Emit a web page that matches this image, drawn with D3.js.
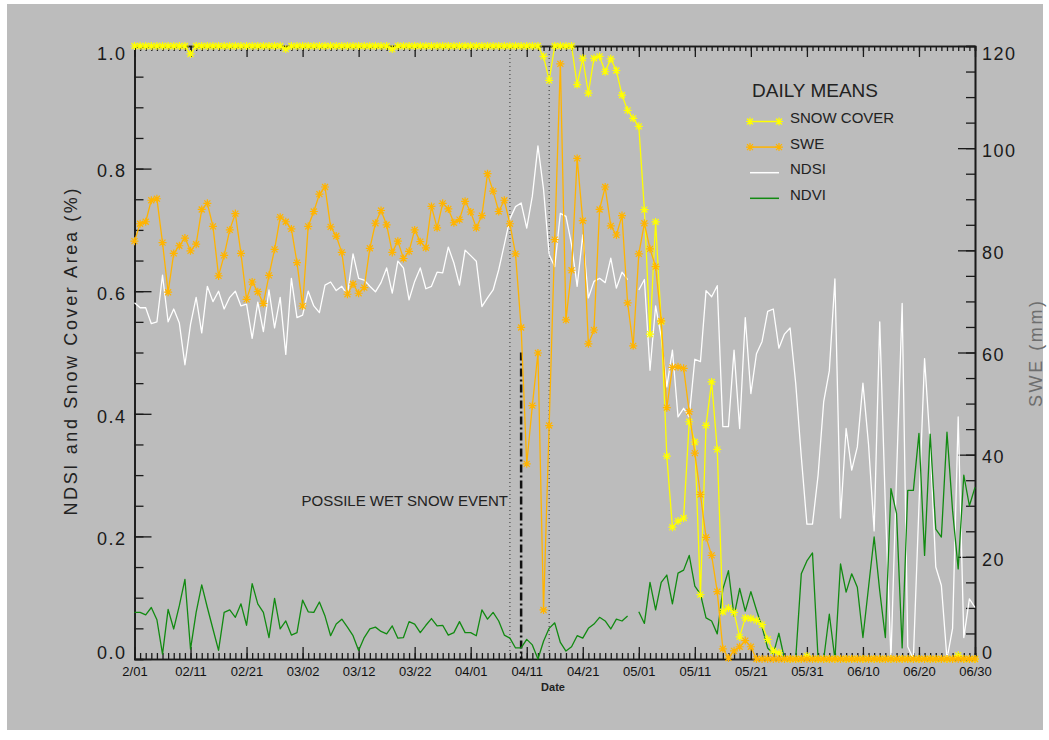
<!DOCTYPE html>
<html>
<head>
<meta charset="utf-8">
<script src="https://cdn.jsdelivr.net/npm/d3@7"></script>
<style>
    html, body { margin: 0; padding: 0; background: #ffffff; }
    svg text { font-family: "Liberation Sans", Arial, sans-serif; fill: #1a1a1a; }
</style>
</head>
<body>
<div id="chart"></div>
<script>
// Daily means, Feb 1 .. Jun 30 (day index 0..150)

const dateLabels = ["2/01", "02/11", "02/21", "03/02", "03/12", "03/22", "04/01", "04/11",
    "04/21", "05/01", "05/11", "05/21", "05/31", "06/10", "06/20", "06/30"];

// snow covered fraction
const snowCover = [
    1, 1, 1, 1, 1, 1, 1, 1, 1, 1, 0.987, 1, 1, 1, 1, 1, 1, 1, 1, 1,
    1, 1, 1, 1, 1, 1, 1, 0.995, 1, 1, 1, 1, 1, 1, 1, 1, 1, 1, 1, 1,
    1, 1, 1, 1, 1, 1, 0.995, 1, 1, 1, 1, 1, 1, 1, 1, 1, 1, 1, 1, 1,
    1, 1, 1, 1, 1, 1, 1, 1, 1, 1, 1, 1, 1, 0.983, 0.944, 1, 1, 1, 1, 0.937,
    0.980, 0.923, 0.980, 0.983, 0.958, 0.979, 0.960, 0.920, 0.895, 0.882, 0.869, 0.733, 0.530, 0.713, 0.55, 0.331, 0.215, 0.225, 0.230, 0.387,
    0.354, 0.105, 0.381, 0.452, 0.342, 0.077, 0.083, 0.076, 0.036, 0.067, 0.066, 0.063, 0.056, 0.032, 0.013, 0.01, 0, 0, 0, 0,
    0.005, 0, 0, 0, 0, 0, 0, 0, 0, 0, 0, 0, 0, 0, 0, 0, 0, 0, 0, 0,
    0, 0, 0, 0, 0, 0, 0, 0.006, 0, 0, 0
];

// snow water equivalent, mm
const swe = [
    81.8, 85.2, 85.6, 89.8, 90.1, 81.5, 71.8, 79.4, 80.9, 82.4, 79.9, 81.2, 88.0, 89.2, 84.7, 75.0, 79.0, 84.0, 87.2, 79.4,
    70.4, 73.8, 71.9, 69.6, 75.1, 80.2, 86.5, 85.6, 84.2, 77.6, 69.1, 84.7, 87.6, 91.0, 92.4, 84.6, 82.8, 79.6, 71.4, 73.4,
    71.6, 72.7, 80.4, 85.3, 87.8, 85.0, 79.6, 81.8, 78.4, 79.8, 84.0, 81.7, 80.5, 88.6, 84.4, 89.2, 88.1, 85.4, 86.0, 89.6,
    87.5, 84.4, 86.8, 95.0, 91.6, 87.6, 89.8, 85.2, 79.3, 64.9, 38.2, 49.6, 59.9, 9.6, 45.7, 82.1, 116.5, 66.4, 76.1, 98.0,
    85.8, 61.7, 64.4, 88.0, 92.4, 84.8, 83.0, 86.8, 69.7, 61.3, 79.3, 85.3, 80.3, 76.8, 66.2, 49.2, 57.1, 57.2, 56.9, 48.4,
    40.3, 32.2, 23.8, 20.3, 13.2, 2.0, 0.2, 1.6, 2.4, 3.6, 2.4, 0, 0, 0, 0, 0, 0, 0, 0, 0,
    0, 0, 0, 0, 0, 0, 0, 0, 0, 0, 0, 0, 0, 0, 0, 0, 0, 0, 0, 0,
    0, 0, 0, 0, 0, 0, 0, 0, 0, 0, 0
];

const ndsi = [
    0.581, 0.573, 0.573, 0.547, 0.550, 0.626, 0.550, 0.571, 0.548, 0.480, 0.546, 0.590, 0.532, 0.608, 0.583, 0.600, 0.571, 0.590, 0.600, 0.576,
    0.579, 0.523, 0.582, 0.534, 0.602, 0.540, 0.590, 0.497, 0.621, 0.557, 0.561, 0.600, 0.576, 0.565, 0.610, 0.615, 0.601, 0.608, 0.594, 0.661,
    0.621, 0.618, 0.608, 0.599, 0.614, 0.638, 0.597, 0.649, 0.638, 0.586, 0.616, 0.638, 0.604, 0.608, 0.631, 0.630, 0.672, 0.646, 0.610, 0.667,
    0.658, 0.649, 0.575, 0.589, 0.602, 0.635, 0.676, 0.718, 0.738, 0.744, 0.703, 0.755, 0.837, 0.766, 0.660, 0.640, 0.727, 0.722, 0.676, 0.608,
    0.692, 0.589, 0.616, 0.621, 0.614, 0.654, 0.605, 0.631, 0.619, null, 0.602, 0.619, 0.471, 0.576, 0.526, 0.444, 0.504, 0.395, 0.409, 0.395,
    0.489, 0.485, 0.601, 0.591, 0.609, 0.379, 0.379, 0.504, 0.376, 0.557, 0.433, 0.498, 0.518, 0.567, 0.571, 0.507, 0.530, 0.540, 0.450, 0.330,
    0.220, 0.220, 0.300, 0.420, 0.470, 0.620, 0.230, 0.376, 0.308, 0.346, 0.450, 0.350, 0.209, 0.550, 0.250, 0.000, 0.300, 0.580, 0.020, 0.000,
    0.250, 0.490, 0.350, 0.150, 0.120, 0.000, 0.050, 0.395, 0.035, 0.098, 0.084
];

const ndvi = [
    0.076, 0.076, 0.072, 0.084, 0.064, 0.008, 0.081, 0.049, 0.087, 0.130, 0.016, 0.076, 0.121, 0.084, 0.049, 0.014, 0.076, 0.080, 0.068, 0.090,
    0.055, 0.123, 0.090, 0.076, 0.035, 0.099, 0.049, 0.062, 0.039, 0.043, 0.096, 0.077, 0.076, 0.093, 0.070, 0.038, 0.057, 0.065, 0.052, 0.038,
    0.014, 0.035, 0.049, 0.052, 0.045, 0.041, 0.054, 0.034, 0.035, 0.061, 0.057, 0.043, 0.055, 0.066, 0.054, 0.055, 0.039, 0.043, 0.061, 0.043,
    0.043, 0.038, 0.080, 0.065, 0.076, 0.062, 0.039, 0.034, 0.018, 0.018, 0.032, 0.023, 0.000, 0.029, 0.050, 0.059, 0.027, 0.013, 0.020, 0.038,
    0.034, 0.050, 0.057, 0.068, 0.062, 0.049, 0.065, 0.062, 0.070, null, 0.077, 0.058, 0.125, 0.080, 0.125, 0.137, 0.090, 0.140, 0.145, 0.169,
    0.119, 0.106, 0.067, 0.062, 0.041, 0.114, 0.144, 0.070, 0.115, 0.078, 0.110, 0.080, 0.052, 0.018, 0.008, 0.042, 0.000, 0.000, 0.000, 0.139,
    0.160, 0.173, 0.000, 0.000, 0.073, 0.000, 0.155, 0.109, 0.139, 0.117, 0.035, 0.117, 0.199, 0.111, 0.035, 0.278, 0.237, 0.018, 0.275, 0.275,
    0.368, 0.169, 0.367, 0.212, 0.199, 0.370, 0.242, 0.147, 0.300, 0.250, 0.280
];

// dotted bracket and dash-dot event marker (day index)
const bracketDays = [67, 74];
const eventDay = 69;
const eventTop = 0.5;

const legendNames = ["SNOW COVER", "SWE", "NDSI", "NDVI"];
const seriesColors = { snow: "#ffff00", swe: "#ffb400", ndsi: "#ffffff", ndvi: "#118a11" };

const W = 1049, H = 740;
const plot = { left: 134.5, right: 975, top: 46, bottom: 659 };

const svg = d3.select("#chart").append("svg")
    .attr("width", W)
    .attr("height", H);

svg.append("rect").attr("width", W).attr("height", H).attr("fill", "#ffffff");
svg.append("rect")
    .attr("x", 7).attr("y", 4)
    .attr("width", 1036).attr("height", 726)
    .attr("fill", "#bcbcbc");

const days = d3.range(snowCover.length);
const x = d3.scaleLinear().domain([0, 150]).range([plot.left, plot.right]);
const y = d3.scaleLinear().domain([0, 1]).range([plot.bottom, plot.top]);
const yR = d3.scaleLinear().domain([0, 120]).range([plot.bottom, plot.top]);

// ---- axes (IDL style: ticks pointing inward) ----
const axisColor = "#1a1a1a";

function styleAxis(g) {
    g.selectAll("path.domain").attr("stroke", axisColor).attr("stroke-width", 1.6);
    g.selectAll(".tick line").attr("stroke", axisColor).attr("stroke-width", 1.3);
}

// minor ticks first
svg.append("g")
    .attr("transform", `translate(0,${plot.bottom})`)
    .call(d3.axisBottom(x).tickValues(days).tickSize(-6).tickFormat(""))
    .call(styleAxis);
svg.append("g")
    .attr("transform", `translate(0,${plot.top})`)
    .call(d3.axisTop(x).tickValues(days).tickSize(-5).tickFormat(""))
    .call(styleAxis);
svg.append("g")
    .attr("transform", `translate(${plot.left},0)`)
    .call(d3.axisLeft(y).tickValues(d3.range(0, 1.001, 0.05)).tickSize(-9).tickFormat(""))
    .call(styleAxis);
svg.append("g")
    .attr("transform", `translate(${plot.right},0)`)
    .call(d3.axisRight(yR).tickValues(d3.range(0, 121, 5)).tickSize(-9).tickFormat(""))
    .call(styleAxis);

// major ticks + labels
const xMajor = d3.range(0, 151, 10);
const bottomAxis = svg.append("g")
    .attr("transform", `translate(0,${plot.bottom})`)
    .call(d3.axisBottom(x).tickValues(xMajor).tickSize(-12).tickSizeOuter(0).tickPadding(7.5)
        .tickFormat((d, i) => dateLabels[i]))
    .call(styleAxis);
bottomAxis.selectAll("text")
    .style("font-size", "13px")
    .style("fill", "#111");

svg.append("g")
    .attr("transform", `translate(0,${plot.top})`)
    .call(d3.axisTop(x).tickValues(xMajor).tickSize(-11).tickSizeOuter(0).tickFormat(""))
    .call(styleAxis);

const leftAxis = svg.append("g")
    .attr("transform", `translate(${plot.left},0)`)
    .call(d3.axisLeft(y).tickValues(d3.range(0, 1.001, 0.2)).tickSize(-17).tickSizeOuter(0)
        .tickPadding(8).tickFormat(d3.format(".1f")))
    .call(styleAxis);

const rightAxis = svg.append("g")
    .attr("transform", `translate(${plot.right},0)`)
    .call(d3.axisRight(yR).tickValues(d3.range(0, 121, 20)).tickSize(-17).tickSizeOuter(0)
        .tickPadding(7).tickFormat(d3.format("d")))
    .call(styleAxis);

// end labels are pulled inside the axis span, like the original
function nudgeLabels(axisG, scale) {
    const [lo, hi] = scale.domain();
    axisG.selectAll(".tick text")
        .style("font-size", "18px")
        .style("letter-spacing", "1.5px")
        .style("fill", "#1a1a1a")
        .attr("dy", "0.32em")
        .attr("y", d => d === hi ? 8 : d === lo ? -6.5 : 2.5);
}
nudgeLabels(leftAxis, y);
nudgeLabels(rightAxis, yR);

// ---- axis titles ----
svg.append("text")
    .attr("transform", `translate(71,352) rotate(-90)`)
    .attr("text-anchor", "middle")
    .attr("dominant-baseline", "central")
    .attr("textLength", 327)
    .attr("lengthAdjust", "spacing")
    .style("font-size", "18px")
    .style("fill", "#222")
    .text("NDSI and Snow Cover Area (%)");

svg.append("text")
    .attr("transform", `translate(1036,354) rotate(-90)`)
    .attr("text-anchor", "middle")
    .attr("dominant-baseline", "central")
    .attr("textLength", 106)
    .attr("lengthAdjust", "spacing")
    .style("font-size", "18px")
    .style("fill", "#6e6e6e")
    .text("SWE (mm)");

svg.append("text")
    .attr("x", 553).attr("y", 691)
    .attr("text-anchor", "middle")
    .style("font-size", "11px")
    .style("font-weight", "bold")
    .style("fill", "#222")
    .text("Date");

// ---- reference lines ----
bracketDays.forEach(d => {
    svg.append("line")
        .attr("x1", x(d)).attr("x2", x(d))
        .attr("y1", y(1)).attr("y2", y(0))
        .attr("stroke", "#333")
        .attr("stroke-width", 1)
        .attr("stroke-dasharray", "1,3");
});

svg.append("line")
    .attr("x1", x(eventDay)).attr("x2", x(eventDay))
    .attr("y1", y(eventTop)).attr("y2", y(0))
    .attr("stroke", "#111")
    .attr("stroke-width", 2.5)
    .attr("stroke-dasharray", "8,3,2,3");

svg.append("text")
    .attr("x", x(bracketDays[0]) - 2)
    .attr("y", 506)
    .attr("text-anchor", "end")
    .style("font-size", "15px")
    .style("fill", "#222")
    .text("POSSILE WET SNOW EVENT");

// ---- series ----
const asterisk = "M-4,0H4M0,-4V4M-3,-3L3,3M-3,3L3,-3";

function drawSeries(values, yScale, color, withMarkers) {
    const pts = days.map(i => ({ d: i, v: values[i] }));
    const line = d3.line()
        .defined(p => p.v != null)
        .x(p => x(p.d))
        .y(p => yScale(p.v));

    svg.append("path")
        .datum(pts)
        .attr("d", line)
        .attr("fill", "none")
        .attr("stroke", color)
        .attr("stroke-width", 1.3)
        .attr("stroke-linejoin", "round");

    if (!withMarkers) return;
    svg.append("g").selectAll("path")
        .data(pts.filter(p => p.v != null))
        .enter().append("path")
        .attr("transform", p => `translate(${x(p.d)},${yScale(p.v)})`)
        .attr("d", asterisk)
        .attr("stroke", color)
        .attr("stroke-width", 1.2)
        .attr("fill", "none");
}

drawSeries(ndsi, y, seriesColors.ndsi, false);
drawSeries(ndvi, y, seriesColors.ndvi, false);
drawSeries(snowCover, y, seriesColors.snow, true);
drawSeries(swe, yR, seriesColors.swe, true);

// ---- legend ----
const legend = svg.append("g");
legend.append("text")
    .attr("x", 752).attr("y", 97)
    .style("font-size", "19px")
    .style("fill", "#222")
    .text("DAILY MEANS");

const legendColors = [seriesColors.snow, seriesColors.swe, seriesColors.ndsi, seriesColors.ndvi];
const legendRows = legend.selectAll(".row")
    .data(legendNames)
    .enter().append("g")
    .attr("class", "row")
    .attr("transform", (d, i) => `translate(0,${117.5 + i * 25.6})`);

legendRows.append("line")
    .attr("x1", 750).attr("x2", 779)
    .attr("y1", 4).attr("y2", 4)
    .attr("stroke", (d, i) => legendColors[i])
    .attr("stroke-width", 1.5);

legendRows.filter((d, i) => i < 2).selectAll(".mk")
    .data((d, i) => [750, 779].map(px => ({ px, c: legendColors[legendNames.indexOf(d)] })))
    .enter().append("path")
    .attr("transform", m => `translate(${m.px},4)`)
    .attr("d", asterisk)
    .attr("stroke", m => m.c)
    .attr("stroke-width", 1.2)
    .attr("fill", "none");

legendRows.append("text")
    .attr("x", 790).attr("y", 5.5)
    .style("font-size", "15px")
    .style("fill", "#222")
    .text(d => d);
</script>
</body>
</html>
